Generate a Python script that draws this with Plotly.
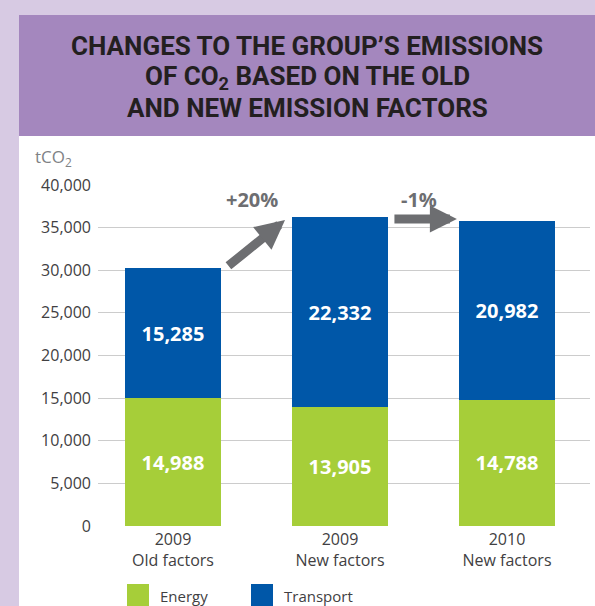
import plotly.graph_objects as go

# ── Data ────────────────────────────────────────────────────────────────
categories = ["2009<br>Old factors", "2009<br>New factors", "2010<br>New factors"]
energy = [14988, 13905, 14788]
transport = [15285, 22332, 20982]
y_ticks = [0, 5000, 10000, 15000, 20000, 25000, 30000, 35000, 40000]
changes = ["+20%", "-1%"]

GREEN = "#a6ce39"
BLUE = "#0057a8"
ARROW = "#6d6e71"
LAVENDER = "#d7cae3"
PURPLE = "#a487be"

W, H = 595, 606
L, R, T, B = 98, 5, 185, 80


def px(x):
    # pixel x -> paper coordinate
    return (x - L) / (W - L - R)


def py(y):
    # pixel y -> paper coordinate
    return (H - B - y) / (H - T - B)


x_idx = list(range(len(categories)))
totals = [e + t for e, t in zip(energy, transport)]

fig = go.Figure()

fig.add_trace(go.Bar(
    x=x_idx, y=energy, name="Energy", marker=dict(color=GREEN, line=dict(width=0)),
    text=[f"{v:,}" for v in energy], textposition="inside", insidetextanchor="middle",
    textfont=dict(family="Open Sans", size=20, color="white", weight="bold"),
    constraintext="none", width=0.58,
))
fig.add_trace(go.Bar(
    x=x_idx, y=transport, name="Transport", marker=dict(color=BLUE, line=dict(width=0)),
    text=[f"{v:,}" for v in transport], textposition="inside", insidetextanchor="middle",
    textfont=dict(family="Open Sans", size=20, color="white", weight="bold"),
    constraintext="none", width=0.58,
))

shapes = [
    # white panel + purple header
    dict(type="rect", xref="paper", yref="paper", x0=px(19), x1=px(W + 5), y0=py(136), y1=py(H + 5),
         fillcolor="white", line=dict(width=0), layer="below"),
    dict(type="rect", xref="paper", yref="paper", x0=px(19), x1=px(W + 5), y0=py(15), y1=py(136),
         fillcolor=PURPLE, line=dict(width=0), layer="below"),
    # legend swatches
    dict(type="rect", xref="paper", yref="paper", x0=px(127), x1=px(149), y0=py(584), y1=py(607),
         fillcolor=GREEN, line=dict(width=0)),
    dict(type="rect", xref="paper", yref="paper", x0=px(251), x1=px(273), y0=py(584), y1=py(607),
         fillcolor=BLUE, line=dict(width=0)),
]

annotations = []
title_lines = ["CHANGES TO THE GROUP’S EMISSIONS",
               "OF CO<sub>2</sub> BASED ON THE OLD",
               "AND NEW EMISSION FACTORS"]
for i, line in enumerate(title_lines):
    annotations.append(dict(
        text=line, xref="paper", yref="paper", x=px(307), y=py(46 + 31 * i),
        xanchor="center", yanchor="middle", showarrow=False,
        font=dict(family="Liberation Sans Narrow, Roboto", size=26, color="#231f20", weight="bold"),
    ))

annotations.append(dict(
    text="tCO<sub>2</sub>", xref="paper", yref="paper", x=px(33), y=py(157),
    xanchor="left", yanchor="middle", showarrow=False,
    font=dict(family="Open Sans", size=17, color="#808285"),
))

for lbl, xx in zip(["Energy", "Transport"], [158, 282]):
    annotations.append(dict(
        text=lbl, xref="paper", yref="paper", x=px(xx), y=py(596),
        xanchor="left", yanchor="middle", showarrow=False,
        font=dict(family="Open Sans", size=15, color="#414042"),
    ))

# change arrows between bars
annotations.append(dict(
    x=0.671, y=totals[1] - 350, ax=0.323, ay=totals[0] + 100, xref="x", yref="y", axref="x", ayref="y",
    showarrow=True, arrowhead=2, arrowsize=0.65, arrowwidth=9, arrowcolor=ARROW, text="", standoff=0,
))
annotations.append(dict(
    x=1.70, y=(totals[1] + totals[2]) / 2, ax=1.317, ay=(totals[1] + totals[2]) / 2,
    xref="x", yref="y", axref="x", ayref="y",
    showarrow=True, arrowhead=2, arrowsize=0.6, arrowwidth=9, arrowcolor=ARROW, text="", standoff=0,
))
for lbl, xx in zip(changes, [0.473, 1.473]):
    annotations.append(dict(
        text=lbl, x=xx, y=38250, xref="x", yref="y", showarrow=False,
        xanchor="center", yanchor="middle",
        font=dict(family="Open Sans", size=20, color=ARROW, weight="bold"),
    ))

fig.update_layout(
    width=W, height=H,
    margin=dict(l=L, r=R, t=T, b=B),
    paper_bgcolor=LAVENDER,
    plot_bgcolor="white",
    barmode="stack",
    bargap=0.42,
    showlegend=False,
    hovermode=False,
    shapes=shapes,
    annotations=annotations,
    xaxis=dict(
        range=[-0.449, 2.497], tickvals=x_idx, ticktext=categories,
        showgrid=False, zeroline=False, showline=False, ticks="", ticklabelstandoff=2,
        tickfont=dict(family="Open Sans", size=16, color="#414042"),
        fixedrange=True,
    ),
    yaxis=dict(
        range=[0, 40000], tickvals=y_ticks, ticktext=[f"{v:,}" for v in y_ticks],
        showgrid=True, gridcolor="#cccccc", gridwidth=1, zeroline=False, showline=False,
        ticks="", ticklabelstandoff=6,
        tickfont=dict(family="Open Sans", size=16, color="#414042"),
        fixedrange=True,
    ),
)

fig.write_html("out.html", config={"displayModeBar": False},
               post_script="document.body.style.margin='0';")
